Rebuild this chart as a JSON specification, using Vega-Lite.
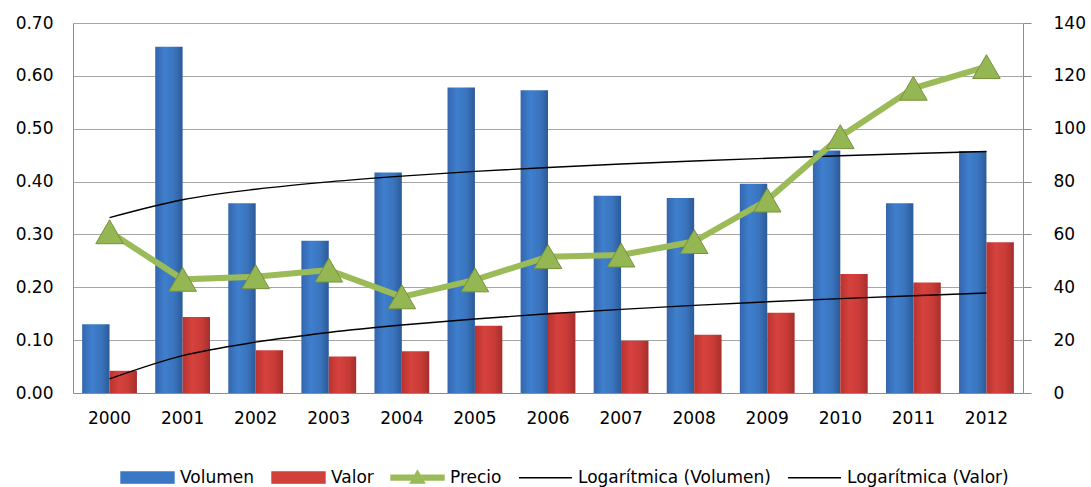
{
  "$schema": "https://vega.github.io/schema/vega-lite/v6.json",
  "autosize": "none",
  "width": 950,
  "height": 370,
  "padding": {"left": 73, "top": 23, "right": 68, "bottom": 94},
  "background": "white",
  "config": {
    "view": {"stroke": null},
    "font": "DejaVu Sans",
    "axis": {"labelFont": "DejaVu Sans", "labelFontSize": 17, "labelColor": "#000000", "domainColor": "#8c8c8c", "gridColor": "#a6a6a6", "tickColor": "#8c8c8c"}
  },
  "datasets": {
    "d": [
      {"year": "2000", "series": "Volumen", "value": 0.130},
      {"year": "2001", "series": "Volumen", "value": 0.655},
      {"year": "2002", "series": "Volumen", "value": 0.359},
      {"year": "2003", "series": "Volumen", "value": 0.288},
      {"year": "2004", "series": "Volumen", "value": 0.417},
      {"year": "2005", "series": "Volumen", "value": 0.578},
      {"year": "2006", "series": "Volumen", "value": 0.573},
      {"year": "2007", "series": "Volumen", "value": 0.373},
      {"year": "2008", "series": "Volumen", "value": 0.369},
      {"year": "2009", "series": "Volumen", "value": 0.396},
      {"year": "2010", "series": "Volumen", "value": 0.459},
      {"year": "2011", "series": "Volumen", "value": 0.359},
      {"year": "2012", "series": "Volumen", "value": 0.458},
      {"year": "2000", "series": "Valor", "value": 0.042},
      {"year": "2001", "series": "Valor", "value": 0.144},
      {"year": "2002", "series": "Valor", "value": 0.081},
      {"year": "2003", "series": "Valor", "value": 0.069},
      {"year": "2004", "series": "Valor", "value": 0.079},
      {"year": "2005", "series": "Valor", "value": 0.127},
      {"year": "2006", "series": "Valor", "value": 0.152},
      {"year": "2007", "series": "Valor", "value": 0.099},
      {"year": "2008", "series": "Valor", "value": 0.110},
      {"year": "2009", "series": "Valor", "value": 0.152},
      {"year": "2010", "series": "Valor", "value": 0.225},
      {"year": "2011", "series": "Valor", "value": 0.209},
      {"year": "2012", "series": "Valor", "value": 0.285},
      {"year": "2000", "series": "Precio", "value": 61},
      {"year": "2001", "series": "Precio", "value": 43},
      {"year": "2002", "series": "Precio", "value": 44},
      {"year": "2003", "series": "Precio", "value": 46.5},
      {"year": "2004", "series": "Precio", "value": 36.4},
      {"year": "2005", "series": "Precio", "value": 42.8},
      {"year": "2006", "series": "Precio", "value": 51.6},
      {"year": "2007", "series": "Precio", "value": 52.2},
      {"year": "2008", "series": "Precio", "value": 57.3},
      {"year": "2009", "series": "Precio", "value": 73},
      {"year": "2010", "series": "Precio", "value": 97},
      {"year": "2011", "series": "Precio", "value": 115.3},
      {"year": "2012", "series": "Precio", "value": 123.5},
      {"year": "2000", "series": "Logarítmica (Volumen)", "value": 0.3318},
      {"year": "2001", "series": "Logarítmica (Volumen)", "value": 0.3656},
      {"year": "2002", "series": "Logarítmica (Volumen)", "value": 0.3854},
      {"year": "2003", "series": "Logarítmica (Volumen)", "value": 0.3994},
      {"year": "2004", "series": "Logarítmica (Volumen)", "value": 0.4103},
      {"year": "2005", "series": "Logarítmica (Volumen)", "value": 0.4192},
      {"year": "2006", "series": "Logarítmica (Volumen)", "value": 0.4267},
      {"year": "2007", "series": "Logarítmica (Volumen)", "value": 0.4332},
      {"year": "2008", "series": "Logarítmica (Volumen)", "value": 0.4390},
      {"year": "2009", "series": "Logarítmica (Volumen)", "value": 0.4441},
      {"year": "2010", "series": "Logarítmica (Volumen)", "value": 0.4488},
      {"year": "2011", "series": "Logarítmica (Volumen)", "value": 0.4530},
      {"year": "2012", "series": "Logarítmica (Volumen)", "value": 0.4569},
      {"year": "2000", "series": "Logarítmica (Valor)", "value": 0.0267},
      {"year": "2001", "series": "Logarítmica (Valor)", "value": 0.0706},
      {"year": "2002", "series": "Logarítmica (Valor)", "value": 0.0962},
      {"year": "2003", "series": "Logarítmica (Valor)", "value": 0.1145},
      {"year": "2004", "series": "Logarítmica (Valor)", "value": 0.1286},
      {"year": "2005", "series": "Logarítmica (Valor)", "value": 0.1401},
      {"year": "2006", "series": "Logarítmica (Valor)", "value": 0.1499},
      {"year": "2007", "series": "Logarítmica (Valor)", "value": 0.1583},
      {"year": "2008", "series": "Logarítmica (Valor)", "value": 0.1658},
      {"year": "2009", "series": "Logarítmica (Valor)", "value": 0.1725},
      {"year": "2010", "series": "Logarítmica (Valor)", "value": 0.1785},
      {"year": "2011", "series": "Logarítmica (Valor)", "value": 0.1840},
      {"year": "2012", "series": "Logarítmica (Valor)", "value": 0.1891}
    ]
  },
  "data": {"name": "d"},
  "encoding": {
    "x": {
      "field": "year", "type": "nominal",
      "scale": {"paddingInner": 0.25, "paddingOuter": 0.125},
      "axis": {"title": null, "labelAngle": 0, "ticks": false, "labelPadding": 17, "domainColor": "#8c8c8c", "grid": false}
    }
  },
  "layer": [
    {
      "layer": [
        {
          "transform": [{"filter": "datum.series === 'Volumen'"}],
          "mark": {"type": "bar", "fill": {"gradient": "linear", "x1": 0, "y1": 0, "x2": 1, "y2": 0, "stops": [{"offset": 0, "color": "#3466ad"}, {"offset": 0.35, "color": "#3f7fcd"}, {"offset": 0.7, "color": "#3a74bd"}, {"offset": 1, "color": "#2b5a98"}]}},
          "encoding": {
            "xOffset": {"field": "series", "type": "nominal", "scale": {"domain": ["Volumen", "Valor"], "paddingInner": 0, "paddingOuter": 0}},
            "y": {"field": "value", "type": "quantitative", "scale": {"domain": [0, 0.7], "nice": false},
              "axis": {"title": null, "format": ".2f", "values": [0, 0.1, 0.2, 0.3, 0.4, 0.5, 0.6, 0.7], "ticks": false, "labelPadding": 20, "grid": true, "gridWidth": 1.2, "domainColor": "#8c8c8c"}}
          }
        },
        {
          "transform": [{"filter": "datum.series === 'Valor'"}],
          "mark": {"type": "bar", "fill": {"gradient": "linear", "x1": 0, "y1": 0, "x2": 1, "y2": 0, "stops": [{"offset": 0, "color": "#b9332f"}, {"offset": 0.35, "color": "#d6423d"}, {"offset": 0.7, "color": "#c93b37"}, {"offset": 1, "color": "#a52f2c"}]}},
          "encoding": {
            "xOffset": {"field": "series", "type": "nominal"},
            "y": {"field": "value", "type": "quantitative"}
          }
        },
        {
          "transform": [{"filter": "indexof(datum.series, 'Logar') === 0"}],
          "mark": {"type": "line", "strokeWidth": 1.4, "interpolate": "monotone"},
          "encoding": {
            "y": {"field": "value", "type": "quantitative"},
            "color": {
              "field": "series", "type": "nominal",
              "scale": {"domain": ["Volumen", "Valor", "Precio", "Logarítmica (Volumen)", "Logarítmica (Valor)"], "range": ["#3a78c6", "#d2403b", "#9bbb59", "#000000", "#000000"]},
              "legend": {
                "title": null, "orient": "none", "direction": "horizontal", "columns": 5,
                "legendX": 47, "legendY": 427,
                "labelFont": "DejaVu Sans", "labelFontSize": 17, "labelColor": "#000000", "labelLimit": 400,
                "labelOffset": 5, "columnPadding": 14,
                "symbolSize": 2809, "symbolStrokeWidth": 1.4,
                "encode": {
                  "symbols": {
                    "update": {
                      "shape": {"signal": "datum.value === 'Volumen' || datum.value === 'Valor' ? 'M-1,-0.21H1V0.21H-1Z' : datum.value === 'Precio' ? 'M-1,-0.09H1V0.09H-1ZM-0.27,0.21L0,-0.26L0.27,0.21Z' : 'M-1,0H1'"},
                      "fill": {"signal": "datum.value === 'Volumen' ? '#3a78c6' : datum.value === 'Valor' ? '#d2403b' : datum.value === 'Precio' ? '#9bbb59' : 'transparent'"},
                      "stroke": {"signal": "datum.value === 'Volumen' ? '#2b5a98' : datum.value === 'Valor' ? '#a52f2c' : datum.value === 'Precio' ? '#8aab4a' : '#000000'"},
                      "opacity": {"value": 1}
                    }
                  }
                }
              }
            }
          }
        }
      ]
    },
    {
      "transform": [{"filter": "datum.series === 'Precio'"}],
      "mark": {"type": "line", "color": "#9bbb59", "strokeWidth": 6, "point": {"shape": "triangle-up", "size": 760, "filled": true, "fill": "#94b653", "stroke": "#76923c", "strokeWidth": 1, "opacity": 1}},
      "encoding": {
        "y": {"field": "value", "type": "quantitative", "scale": {"domain": [0, 140], "nice": false},
          "axis": {"orient": "right", "title": null, "values": [0, 20, 40, 60, 80, 100, 120, 140], "grid": false, "ticks": true, "tickSize": 8, "labelPadding": 22, "domainColor": "#8c8c8c"}}
      }
    }
  ],
  "resolve": {"scale": {"y": "independent"}}
}
